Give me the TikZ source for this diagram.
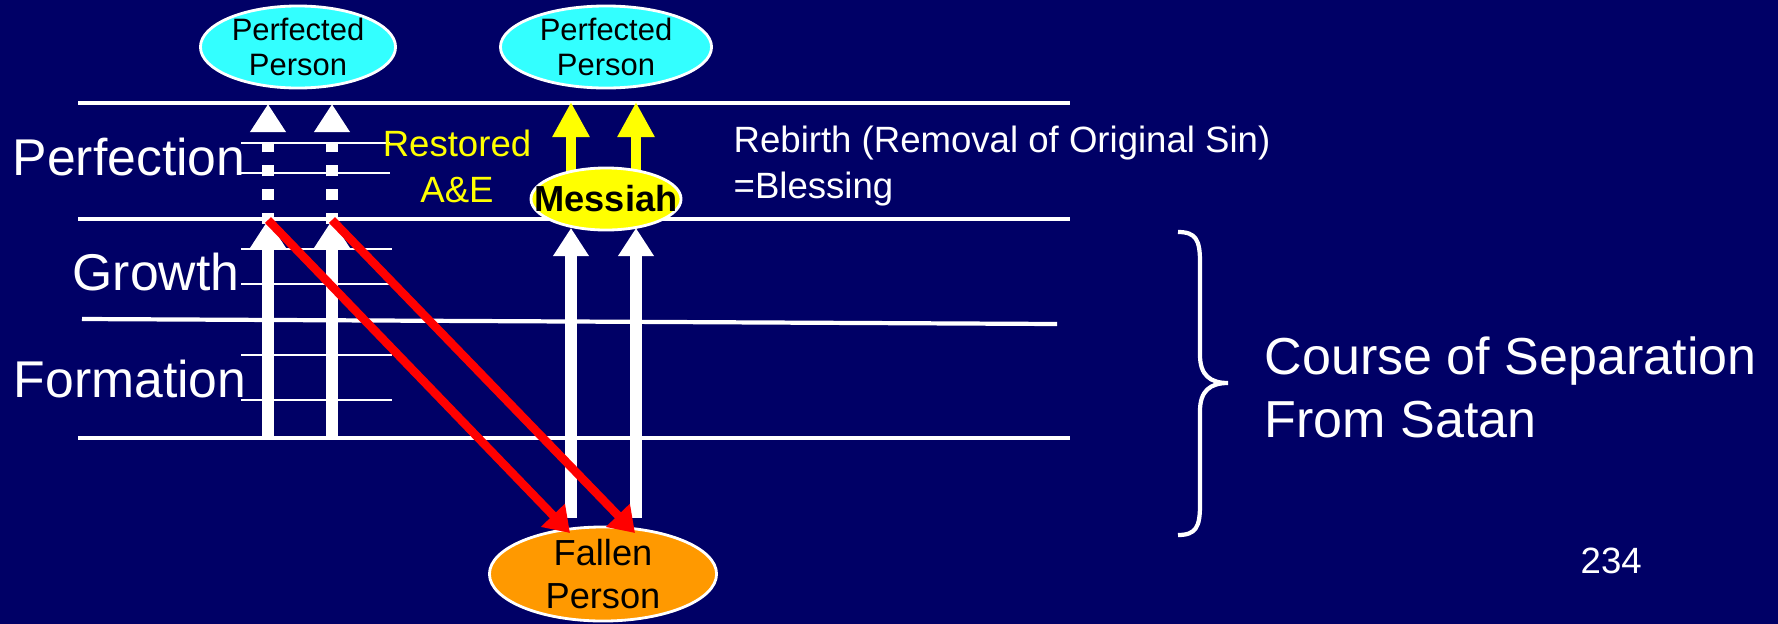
\documentclass[tikz,border=0pt]{standalone}
\usepackage{fontspec}
\setmainfont{Liberation Sans}
\usetikzlibrary{arrows.meta, positioning, shapes.geometric}
\definecolor{navybg}{HTML}{000066}
\definecolor{perfcyan}{HTML}{33FFFF}
\definecolor{blessyellow}{HTML}{FFFF00}
\definecolor{fallorange}{HTML}{FF9900}
\definecolor{sinred}{HTML}{FF0000}

\begin{document}
\begin{tikzpicture}[
    x=0.01cm, y=-0.01cm,
    level/.style={white, line width=1.2pt},
    sublevel/.style={white, line width=0.6pt},
    stage/.style={text=white, inner sep=0, anchor=base west, font=\fontsize{14.7}{17}\selectfont},
    note/.style={inner sep=0, anchor=base west, align=left, font=\fontsize{10.4}{12.8}\selectfont},
    oval/.style={ellipse, draw=white, line width=0.8pt, inner sep=0, align=center},
    rise/.style={white, line width=3.4pt, -{Triangle[width=9.7pt, length=8pt]}},
    bless/.style={blessyellow, line width=2.8pt, -{Triangle[width=10pt, length=10pt]}},
    fall/.style={sinred, line width=2.4pt, -{Triangle[width=9pt, length=7pt]}},
]
\fill[navybg] (0,0) rectangle (1778,624);

% growth stages
\draw[level] (78,103) -- (1070,103);
\draw[level] (78,219) -- (1070,219);
\draw[level] (82,319) -- (1057,324);
\draw[level] (78,438) -- (1070,438);
\draw[sublevel] (241,143) -- (390,143);
\draw[sublevel] (241,173) -- (390,173);
\draw[sublevel] (241,249) -- (392,249);
\draw[sublevel] (241,284) -- (392,284);
\draw[sublevel] (241,355) -- (392,355);
\draw[sublevel] (241,400) -- (392,400);

\node[stage] (perf) at (12,175) {Perfection};
\node[stage] (grow) at (72,290) {Growth};
\node[stage] (form) at (13,397) {Formation};

% Adam and Eve
\coordinate (lowA) at (268,438);
\coordinate (midA) at (268,220);
\coordinate (capA) at (268,104);
\coordinate (lowE) at (332,438);
\coordinate (midE) at (332,220);
\coordinate (capE) at (332,104);
\draw[rise] (lowA) -- (midA);
\draw[rise] (lowE) -- (midE);
\draw[rise, dash pattern=on 3.1pt off 3.7pt] ([yshift=-1.2pt]midA) -- (capA);
\draw[rise, dash pattern=on 3.1pt off 3.7pt] ([yshift=-1.2pt]midE) -- (capE);

% through the Messiah
\coordinate (lowM) at (571,518);
\coordinate (midM) at (571,228);
\coordinate (capM) at (571,102);
\coordinate (lowN) at (636,518);
\coordinate (midN) at (636,228);
\coordinate (capN) at (636,102);
\draw[rise] (lowM) -- (midM);
\draw[rise] (lowN) -- (midN);
\draw[bless] (571,195) -- (capM);
\draw[bless] (636,195) -- (capN);

\node[note, text=blessyellow, anchor=base, align=center] (restored) at (457,202) {Restored\\A\&E};
\node[note, text=white] (rebirth) at (733,198) {Rebirth (Removal of Original Sin)\\=Blessing};

\node[oval, fill=perfcyan, minimum width=1.95cm, minimum height=0.82cm,
      font=\fontsize{8.8}{10}\selectfont] (perfA) at (298,47) {Perfected\\Person};
\node[oval, fill=perfcyan, minimum width=2.11cm, minimum height=0.82cm,
      font=\fontsize{8.8}{10}\selectfont] (perfB) at (606,47) {Perfected\\Person};
\node[oval, fill=blessyellow, minimum width=1.5cm, minimum height=0.62cm, inner xsep=-6pt,
      font=\bfseries\fontsize{10.3}{12}\selectfont] (messiah) at (606,199) {Messiah};
\node[oval, fill=fallorange, minimum width=2.27cm, minimum height=0.94cm, inner ysep=-1pt,
      font=\fontsize{10.3}{12.2}\selectfont] (fallen) at (603,574) {Fallen\\Person};

% the fall
\coordinate (hitA) at (570,533);
\coordinate (hitE) at (635,533);
\draw[fall] (midA) -- (hitA);
\draw[fall] (midE) -- (hitE);

% separation from Satan
\draw[white, line width=1.2pt] (1178,232) .. controls (1196,232) and (1200,240) .. (1200,262)
    -- (1200,355) .. controls (1200,375) and (1210,383) .. (1228,383)
    .. controls (1210,383) and (1200,391) .. (1200,411)
    -- (1200,505) .. controls (1200,527) and (1196,535) .. (1178,535);
\node[note, text=white, font=\fontsize{14.8}{17.9}\selectfont] (course) at (1264,437) {Course of Separation\\From Satan};
\node[note, text=white] (page) at (1580,573) {234};
\end{tikzpicture}
\end{document}
